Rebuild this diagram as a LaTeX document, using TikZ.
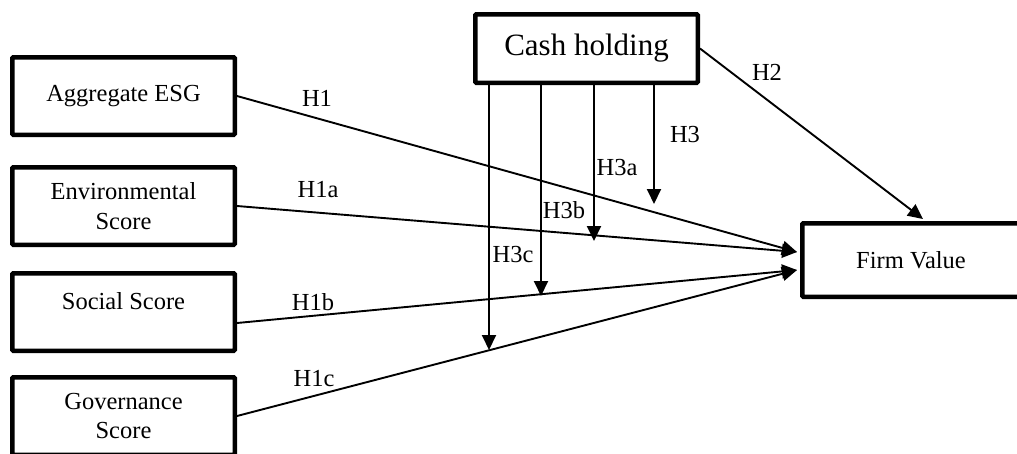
\documentclass[tikz,border=0pt]{standalone}
\usepackage{fontspec}
\setmainfont{Liberation Serif}
\usetikzlibrary{arrows.meta,calc}
\tikzset{
  varbox/.style={draw, line width=4.5pt, rounded corners=1pt, inner sep=0pt,
    minimum width=222.5pt, minimum height=77.5pt, align=center,
    font=\fontsize{24.5}{29.5}\selectfont},
  txt/.style={inner sep=0pt, font=\fontsize{24.5}{29.5}\selectfont},
  lbl/.style={inner sep=0pt, font=\fontsize{24.5}{29.5}\selectfont},
  link/.style={line width=1.9pt, -{Triangle[length=15pt,width=14pt]}},
}
\begin{document}
\begin{tikzpicture}[x=1pt,y=-1pt]
\useasboundingbox (0,0) rectangle (1017,453);
\clip (0,0) rectangle (1017,453);
% boxes
\node[varbox] (agg) at (123.5,96) {Aggregate ESG};
\node[varbox] (env) at (123.5,206) {Environmental\\Score};
\node[varbox] (soc) at (123.5,312) {};
\node[txt] (soct) at (123.5,301) {Social Score};
\node[varbox] (gov) at (123.5,416) {Governance\\Score};
\node[varbox, minimum height=68.5pt, font=\fontsize{31}{36}\selectfont] (cash) at (586.5,48.5) {Cash holding};
\node[varbox, minimum width=217.5pt, minimum height=73.5pt] (fv) at (911,260) {Firm Value};
% end points
\coordinate (fvA) at ($(fv.west)+(-3,-8)$);
\coordinate (fvB) at ($(fv.west)+(-3,10)$);
\coordinate (fvN) at ($(fv.north)+(12,-2)$);
\coordinate (socE) at ($(soc.east)+(0,11)$);
\coordinate (h3T) at (654,204);
\coordinate (h3aT) at (594,241);
\coordinate (h3bT) at (541,296);
\coordinate (h3cT) at (489,350);
% main links
\draw[link] (agg.east) -- (fvA);
\draw[link] (env.east) -- (fvA);
\draw[link] (socE) -- (fvB);
\draw[link] (gov.east) -- (fvB);
\draw[link] (cash.east) -- (fvN);
% moderation links
\draw[link] (cash.south -| h3T) -- (h3T);
\draw[link] (cash.south -| h3aT) -- (h3aT);
\draw[link] (cash.south -| h3bT) -- (h3bT);
\draw[link] (cash.south -| h3cT) -- (h3cT);
% labels
\node[lbl] (l1) at (317,98) {H1};
\node[lbl] (l1a) at (318,190) {H1a};
\node[lbl] (l1b) at (313,302) {H1b};
\node[lbl] (l1c) at (314,379) {H1c};
\node[lbl] (l2) at (767,72) {H2};
\node[lbl] (l3) at (685,135) {H3};
\node[lbl] (l3a) at (617,168) {H3a};
\node[lbl] (l3b) at (564,210) {H3b};
\node[lbl] (l3c) at (513,255) {H3c};
\end{tikzpicture}
\end{document}
